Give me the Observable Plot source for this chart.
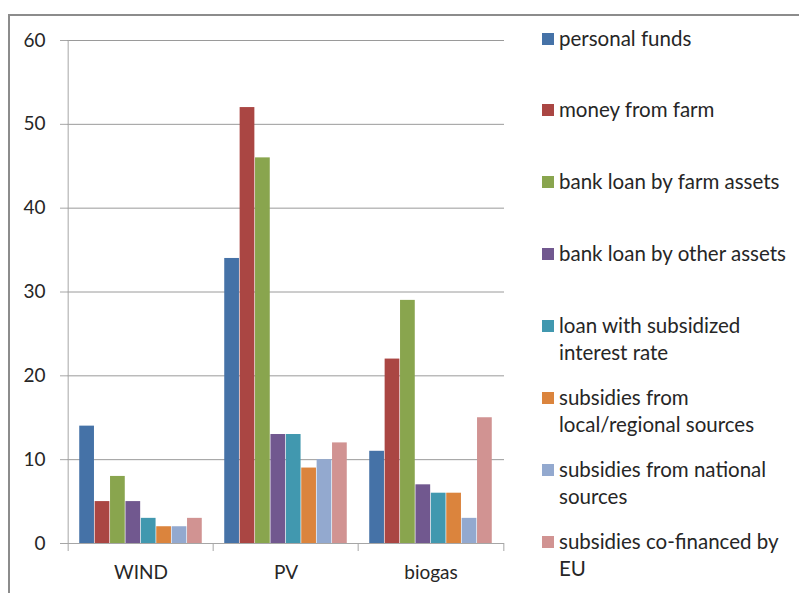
<!DOCTYPE html>
<html>
<head>
<meta charset="utf-8">
<script src="https://cdn.jsdelivr.net/npm/d3@7"></script>
<script src="https://cdn.jsdelivr.net/npm/@observablehq/plot@0.6"></script>
<style>
  html, body { margin: 0; padding: 0; background: #fff; }
  #wrap { position: relative; width: 799px; height: 593px; overflow: hidden; font-family: Lato, "Open Sans", sans-serif; color: #262626; }
  #border { position: absolute; left: 8px; top: 14px; width: 900px; height: 700px; border: 2px solid #8c8c8c; box-sizing: border-box; }
  #chart { position: absolute; left: 0; top: 0; }
  .item { position: absolute; left: 542px; font-size: 20.5px; line-height: 27px; white-space: nowrap; }
  .sw { position: absolute; left: 0; top: 8px; width: 12px; height: 12px; }
  .lab { position: absolute; left: 17px; top: 0; }
</style>
</head>
<body>
<div id="wrap">
  <div id="border"></div>
  <div id="chart"></div>
  <div id="legend"></div>
</div>
<script>
const categories = ["WIND", "PV", "biogas"];
const series = [
  "personal funds",
  "money from farm",
  "bank loan by farm assets",
  "bank loan by other assets",
  "loan with subsidized interest rate",
  "subsidies from local/regional sources",
  "subsidies from national sources",
  "subsidies co-financed by EU"
];
const legendLines = [
  ["personal funds"],
  ["money from farm"],
  ["bank loan by farm assets"],
  ["bank loan by other assets"],
  ["loan with subsidized", "interest rate"],
  ["subsidies from", "local/regional sources"],
  ["subsidies from national", "sources"],
  ["subsidies co-financed by", "EU"]
];
const colors = ["#4572A7", "#AA4643", "#89A54E", "#71588F", "#4198AF", "#DB843D", "#93A9CF", "#D19392"];
const windValues   = [14, 5, 8, 5, 3, 2, 2, 3];
const pvValues     = [34, 52, 46, 13, 13, 9, 10, 12];
const biogasValues = [11, 22, 29, 7, 6, 6, 3, 15];
const yTicks = [0, 10, 20, 30, 40, 50, 60];

const valuesByCat = {WIND: windValues, PV: pvValues, biogas: biogasValues};
const rows = [];
categories.forEach(c => series.forEach((s, i) => rows.push({cat: c, series: s, value: valuesByCat[c][i]})));

const W = 530, H = 593, mL = 67, mR = 26, mT = 40, mB = 50;
const band = (W - mL - mR) / categories.length;
const barW = 15.4;
const pad = (band - barW * series.length) / 2;
const axisGray = "#a6a6a6";
const gridGray = "#9a9a9a";

const marks = [
  Plot.gridY(yTicks, {stroke: gridGray, strokeOpacity: 1}),
  Plot.ruleX([categories[0]], {x: d => d, dx: -band / 2, stroke: axisGray}),
];
series.forEach((s, i) => {
  marks.push(Plot.barY(rows.filter(r => r.series === s), {
    x: "cat", y: "value", fill: "series",
    insetLeft: pad + i * barW, insetRight: pad + (series.length - 1 - i) * barW
  }));
});
marks.push(
  Plot.ruleY([0], {stroke: axisGray}),
  Plot.ruleX(categories, {x: d => d, dx: -band / 2, stroke: axisGray, insetTop: H - mT - mB, insetBottom: -8}),
  Plot.ruleX([categories[categories.length - 1]], {x: d => d, dx: band / 2, stroke: axisGray, insetTop: H - mT - mB, insetBottom: -8}),
  Plot.axisY(yTicks, {tickSize: 7, tickPadding: 15, stroke: axisGray, fill: "#262626", fontSize: 19, label: null}),
  Plot.axisX({tickSize: 0, tickPadding: 22, fill: "#262626", fontSize: 19, label: null})
);

const chart = Plot.plot({
  width: W, height: H,
  marginLeft: mL, marginRight: mR, marginTop: mT, marginBottom: mB,
  style: {fontFamily: "Lato, 'Open Sans', sans-serif", background: "transparent", overflow: "visible"},
  x: {type: "band", domain: categories, padding: 0},
  y: {domain: [0, 60]},
  color: {domain: series, range: colors},
  marks
});
document.getElementById("chart").appendChild(chart);

const legend = document.getElementById("legend");
const firstY = 38, step = 71.9;
legendLines.forEach((lines, i) => {
  const it = document.createElement("div");
  it.className = "item";
  it.style.top = (firstY + i * step - 13.5) + "px";
  const sw = document.createElement("div");
  sw.className = "sw";
  sw.style.background = colors[i];
  const lab = document.createElement("div");
  lab.className = "lab";
  lab.innerHTML = lines.join("<br>");
  it.appendChild(sw); it.appendChild(lab);
  legend.appendChild(it);
});
</script>
</body>
</html>
